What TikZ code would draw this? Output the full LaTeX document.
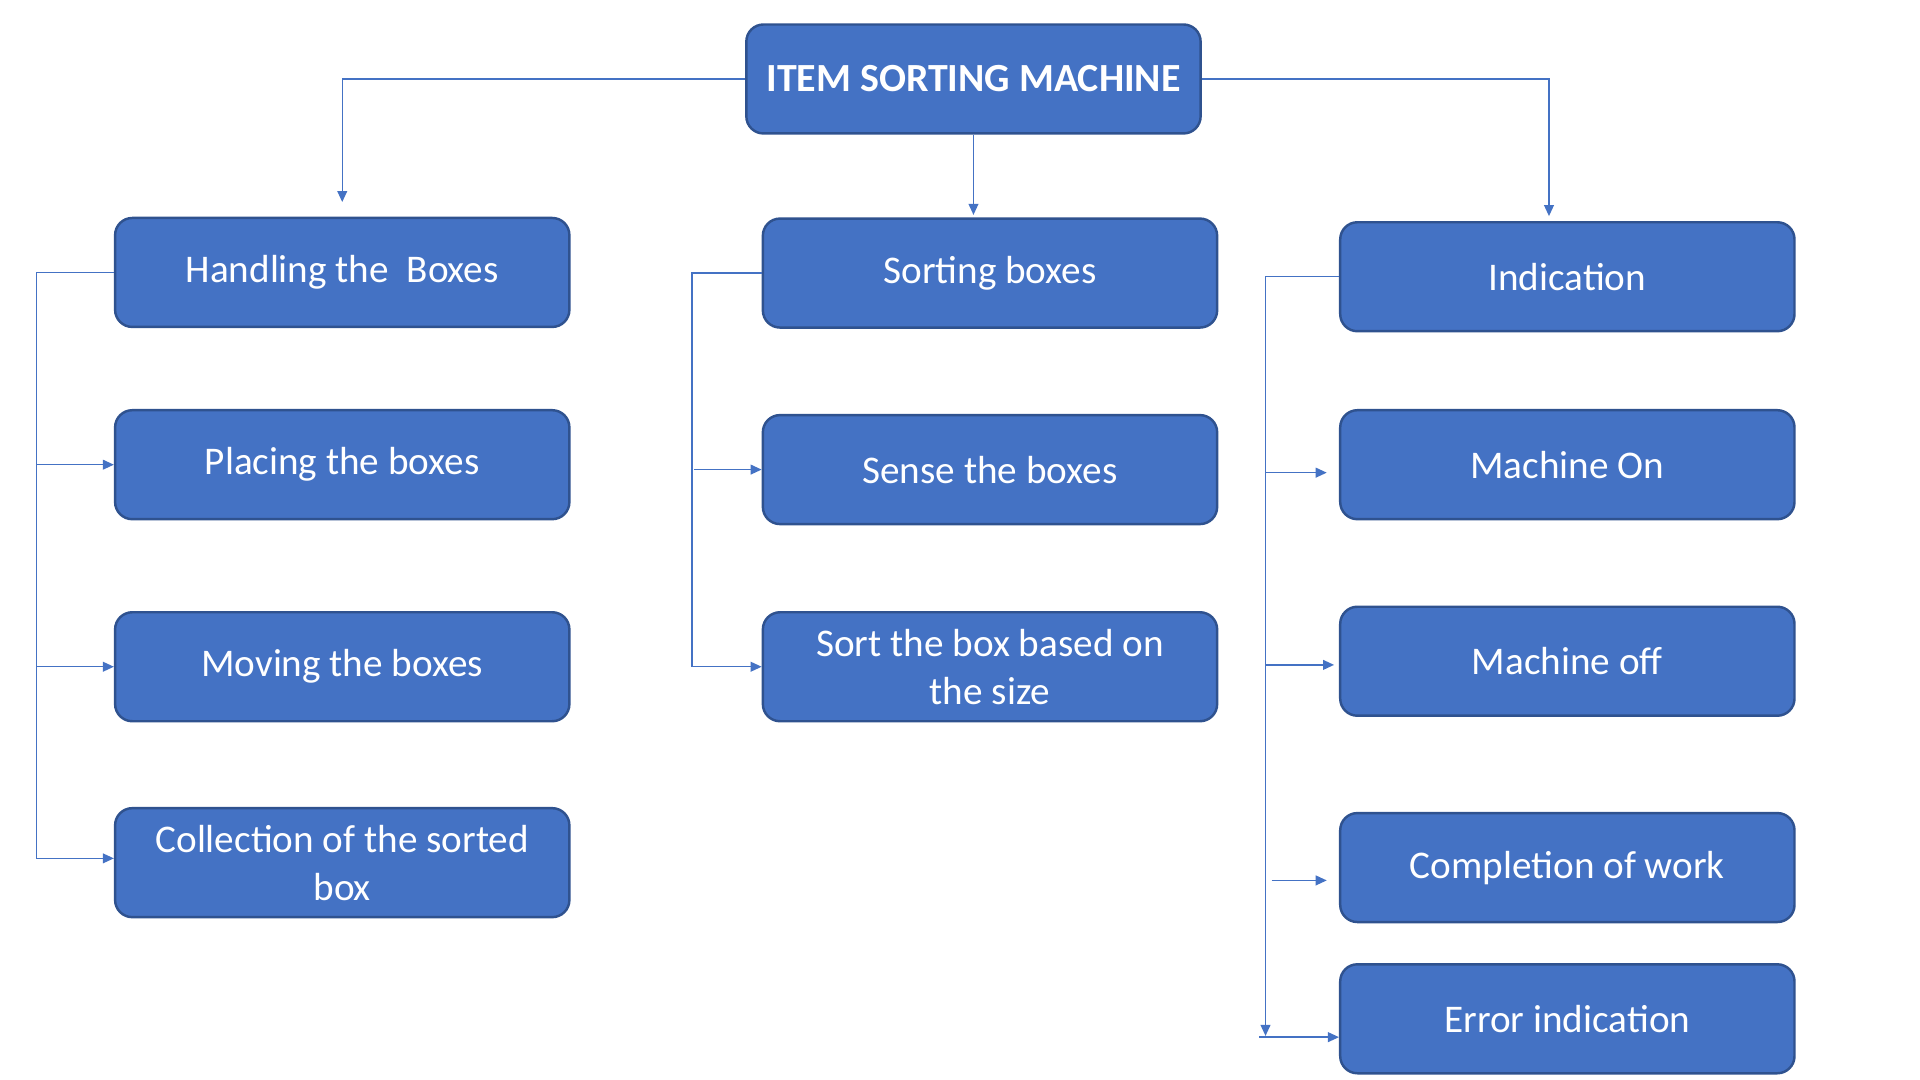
\documentclass[tikz,border=0pt]{standalone}
\usepackage{fontspec}
\setmainfont{Carlito}
\usepackage{tikz}
\usetikzlibrary{arrows.meta,calc}
\definecolor{boxblue}{HTML}{4472C4}
\definecolor{boxedge}{HTML}{2F528F}
\tikzstyle{blk}=[rectangle, rounded corners=7pt, draw=boxedge, fill=boxblue,% office blue box
line width=1pt, minimum width=185.5pt, minimum height=44.5pt, text=white, align=center,
font=\fontsize{16}{19.5}\selectfont]
\tikzstyle{link}=[-{Triangle[length=4.5pt,width=4pt]}, draw=boxblue, line width=0.6pt]

\begin{document}
\begin{tikzpicture}[x=0.5pt,y=-0.5pt]
\useasboundingbox (0,0) rectangle (1568,882);
\node[blk, font=\fontsize{16.3}{19.5}\selectfont\bfseries] (root) at (795,64.5) {ITEM SORTING MACHINE};
\node[blk] (hand) at (279.5,222.5) {Handling the\ \ Boxes};
\node[blk] (sort) at (808.5,223) {Sorting boxes};
\node[blk] (ind) at (1280,226) {Indication};
\node[blk] (place) at (279.5,379.5) {Placing the boxes};
\node[blk] (move) at (279.5,544.5) {Moving the boxes};
\node[blk] (coll) at (279.5,704.5) {Collection of the sorted\\box};
\node[blk] (sense) at (808.5,383.5) {Sense the boxes};
\node[blk] (size) at (808.5,544.5) {Sort the box based on\\the size};
\node[blk] (on) at (1280,379.5) {Machine On};
\node[blk] (off) at (1280,540) {Machine off};
\node[blk] (comp) at (1280,708.5) {Completion of work};
\node[blk] (err) at (1280,832) {Error indication};
% top level
\draw[link, shorten >=6pt] (root.west) -| (hand.north);
\draw[link, shorten >=1pt] (root.south) -- (root.south |- sort.north);
\draw[link, shorten >=2pt] (root.east) -| ([xshift=-7.5pt]ind.north);
% left column
\draw[link] (hand.west) -| ([xshift=-31.5pt,yshift=1.75pt]coll.west) -- ([yshift=1.75pt]coll.west);
\draw[link] ([xshift=-31.5pt]place.west) -- (place.west);
\draw[link] ([xshift=-31.5pt]move.west) -- (move.west);
% middle column
\draw[link] (sort.west) -| ([xshift=-28.5pt]size.west) -- (size.west);
\draw[link] ([xshift=-27.5pt]sense.west) -- (sense.west);
% right column
\draw[link] (ind.west) -| ([xshift=-30pt,yshift=-7pt]err.west);
\draw[link] ([xshift=-32.5pt,yshift=-7.5pt]err.west) -- ([yshift=-7.5pt]err.west);
\draw[link] ([xshift=-30pt,yshift=-3.25pt]on.west) -- ([xshift=-5pt,yshift=-3.25pt]on.west);
\draw[link] ([xshift=-30pt,yshift=-1.5pt]off.west) -- ([xshift=-2pt,yshift=-1.5pt]off.west);
\draw[link] ([xshift=-27.5pt,yshift=-5.25pt]comp.west) -- ([xshift=-5pt,yshift=-5.25pt]comp.west);
\end{tikzpicture}
\end{document}
